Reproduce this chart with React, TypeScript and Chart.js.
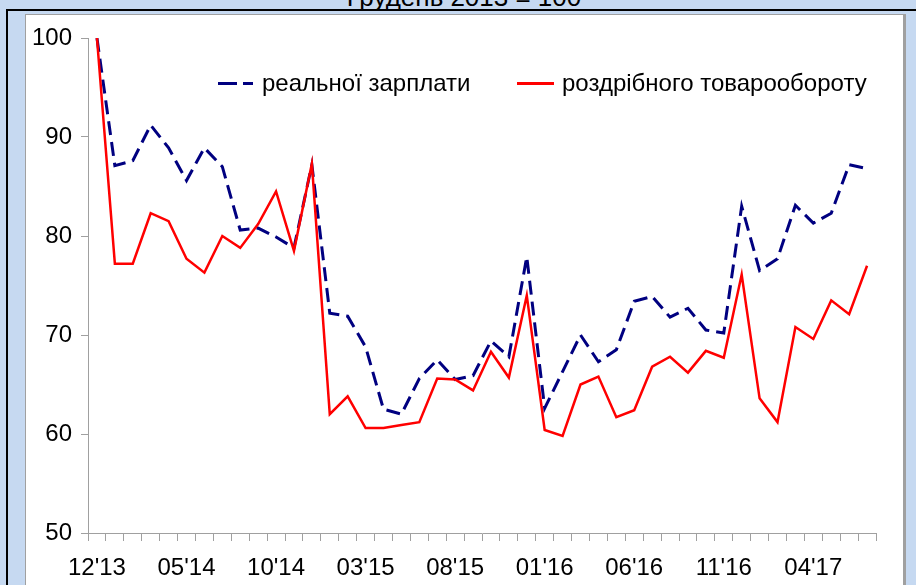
import { useEffect, useRef } from "react";
import { Chart, registerables } from "chart.js";

Chart.register(...registerables);

const titleText = "Грудень 2013 = 100";

const categories = [
  "12'13",
  "01'14", "02'14", "03'14", "04'14", "05'14", "06'14", "07'14", "08'14", "09'14", "10'14", "11'14", "12'14",
  "01'15", "02'15", "03'15", "04'15", "05'15", "06'15", "07'15", "08'15", "09'15", "10'15", "11'15", "12'15",
  "01'16", "02'16", "03'16", "04'16", "05'16", "06'16", "07'16", "08'16", "09'16", "10'16", "11'16", "12'16",
  "01'17", "02'17", "03'17", "04'17", "05'17", "06'17", "07'17",
];

const shownTicks = ["12'13", "05'14", "10'14", "03'15", "08'15", "01'16", "06'16", "11'16", "04'17"];

const wagesLabel = "реальної зарплати";
const wages = [
  100, 87.1, 87.6, 91.2, 88.9, 85.6, 88.9, 87.0, 80.6, 80.8, 79.9, 78.8, 87.2,
  72.2, 71.9, 68.8, 62.5, 62.0, 65.6, 67.5, 65.5, 65.9, 69.4, 67.8, 77.9,
  62.6, 66.3, 70.0, 67.3, 68.5, 73.4, 73.9, 71.8, 72.7, 70.5, 70.2, 83.0,
  76.5, 77.7, 83.1, 81.3, 82.3, 87.2, 86.8,
];

const retailLabel = "роздрібного товарообороту";
const retail = [
  100, 77.2, 77.2, 82.3, 81.5, 77.7, 76.3, 80.0, 78.8, 81.2, 84.5, 78.5, 87.3,
  62.0, 63.8, 60.6, 60.6, 60.9, 61.2, 65.6, 65.5, 64.4, 68.3, 65.7, 74.0,
  60.4, 59.8, 65.0, 65.8, 61.7, 62.4, 66.8, 67.8, 66.2, 68.4, 67.7, 76.1,
  63.6, 61.2, 70.8, 69.6, 73.5, 72.1, 77.0,
];

const yMin = 50;
const yMax = 100;
const yStep = 10;

const FONT = '"Liberation Sans", Arial, sans-serif';
const NAVY = "#000080";
const RED = "#ff0000";
const AXIS = "#a0a0a0";

export default function App() {
  const ref = useRef<HTMLCanvasElement | null>(null);

  useEffect(() => {
    if (!ref.current) return;
    const chart = new Chart(ref.current, {
      type: "line",
      data: {
        labels: categories,
        datasets: [
          {
            label: wagesLabel,
            data: wages,
            borderColor: NAVY,
            borderWidth: 3,
            borderDash: [14, 7],
            pointRadius: 0,
            tension: 0,
            fill: false,
            order: 1,
          },
          {
            label: retailLabel,
            data: retail,
            borderColor: RED,
            borderWidth: 2.5,
            pointRadius: 0,
            tension: 0,
            fill: false,
            order: 0,
          },
        ],
      },
      options: {
        responsive: false,
        animation: false,
        devicePixelRatio: 1,
        layout: { padding: { left: 0, top: 38, right: 40, bottom: 0 } },
        plugins: {
          legend: { display: false },
          title: { display: false },
          tooltip: { enabled: false },
        },
        scales: {
          x: {
            type: "category",
            offset: true,
            grid: {
              offset: true,
              drawOnChartArea: false,
              drawTicks: true,
              tickLength: 8,
              color: AXIS,
              lineWidth: 1,
            },
            border: { color: AXIS, width: 1 },
            ticks: {
              autoSkip: false,
              maxRotation: 0,
              minRotation: 0,
              padding: 13,
              color: "#000",
              font: { family: FONT, size: 24 },
              callback: function (_v: any, i: number) {
                const c = categories[i];
                return shownTicks.includes(c) ? c : "";
              },
            },
            afterFit: (s: any) => {
              s.height = 52;
            },
          },
          y: {
            min: yMin,
            max: yMax,
            grid: {
              drawOnChartArea: false,
              drawTicks: true,
              tickLength: 7,
              color: AXIS,
              lineWidth: 1,
            },
            border: { color: AXIS, width: 1 },
            ticks: {
              stepSize: yStep,
              padding: 9,
              color: "#000",
              font: { family: FONT, size: 24 },
            },
            afterFit: (s: any) => {
              s.width = 88;
            },
          },
        },
      },
    });
    return () => chart.destroy();
  }, []);

  return (
    <div
      style={{
        position: "fixed",
        left: 0,
        top: 0,
        width: 916,
        height: 585,
        overflow: "hidden",
        background: "#c6d9f1",
        fontFamily: FONT,
      }}
    >
      <div
        style={{
          position: "absolute",
          left: 0,
          width: 916,
          top: -16,
          textAlign: "center",
          fontSize: 26,
          lineHeight: "26px",
          color: "#000",
          paddingLeft: 12,
          boxSizing: "border-box",
        }}
      >
        {titleText}
      </div>
      <div
        style={{
          position: "absolute",
          left: 6,
          top: 9,
          width: 930,
          height: 600,
          border: "2px solid #000",
          boxSizing: "border-box",
        }}
      />
      <div
        style={{
          position: "absolute",
          left: 25,
          top: 14,
          width: 881,
          height: 600,
          background: "#fff",
          borderLeft: "1px solid " + AXIS,
          borderTop: "1px solid " + AXIS,
          borderRight: "3px solid " + AXIS,
          boxSizing: "border-box",
        }}
      />
      <canvas
        ref={ref}
        width={916}
        height={585}
        style={{ position: "absolute", left: 0, top: 0, width: 916, height: 585 }}
      />
      <div style={{ position: "absolute", left: 218, top: 82, width: 19, height: 3, background: NAVY }} />
      <div style={{ position: "absolute", left: 243, top: 82, width: 10, height: 3, background: NAVY }} />
      <div
        style={{
          position: "absolute",
          left: 262,
          top: 69,
          fontSize: 24,
          lineHeight: "28px",
          color: "#000",
          whiteSpace: "nowrap",
        }}
      >
        {wagesLabel}
      </div>
      <div style={{ position: "absolute", left: 517, top: 82, width: 37, height: 2.5, background: RED }} />
      <div
        style={{
          position: "absolute",
          left: 562,
          top: 69,
          fontSize: 24,
          lineHeight: "28px",
          color: "#000",
          whiteSpace: "nowrap",
        }}
      >
        {retailLabel}
      </div>
    </div>
  );
}
